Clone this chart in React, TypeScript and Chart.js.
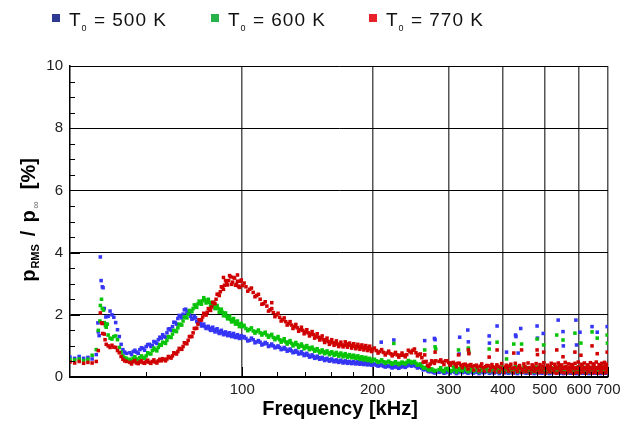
import React, { useEffect, useRef } from "react";
import { Chart, registerables } from "chart.js";

Chart.register(...registerables);

const FONT = "'Liberation Sans', Arial, sans-serif";

// Frequency grid [kHz]
const FREQ = [
  40, 41, 42, 43, 44, 45, 46,
  46.5, 47, 47.5, 48, 48.5, 49, 49.5, 50, 50.5, 51, 51.5, 52, 52.5, 53, 53.5, 54,
  55, 56, 57, 58, 59, 60, 61, 62, 63, 64, 65, 66, 67, 68, 69, 70, 71, 72, 73, 74, 75, 76, 77, 78, 79, 80,
  81, 82, 83, 84, 85, 86, 87, 88, 89, 90, 91, 92, 93, 94, 95, 96, 97, 98, 99, 100,
  102, 104, 106, 108, 110, 112, 114, 116, 118, 120, 122, 124, 126, 128, 130, 132, 134, 136, 138, 140,
  142, 144, 146, 148, 150, 152, 154, 156, 158, 160, 162, 164, 166, 168, 170, 172, 174, 176, 178, 180,
  182, 184, 186, 188, 190, 192, 194, 196, 198, 200,
  204, 208, 212, 216, 220, 224, 228, 232, 236, 240, 244, 248, 252, 256, 260, 264, 268, 272, 276, 280,
  285, 290, 295, 300, 305, 310, 315, 320, 325, 330, 335, 340, 345, 350, 355, 360, 365, 370, 375, 380,
  385, 390, 395, 400, 405, 410, 415, 420, 425, 430, 435, 440, 445, 450, 455, 460, 465, 470, 475, 480,
  485, 490, 495, 500, 505, 510, 515, 520, 525, 530, 535, 540, 545, 550, 555, 560, 565, 570, 575, 580,
  585, 590, 595, 600, 605, 610, 615, 620, 625, 630, 635, 640, 645, 650, 655, 660, 665, 670, 675, 680,
  685, 690, 695, 700,
];

// T0 = 500 K
const BLUE = [
  0.64, 0.6, 0.66, 0.6, 0.63, 0.58, 0.72,
  1.45, 3.86, 2.9, 2.2, 1.7, 1.95, 2.12, 2.0, 1.92, 1.75, 1.52, 1.3, 1.05, 0.88, 0.8, 0.76,
  0.78, 0.82, 0.8, 0.88, 0.92, 0.98, 1.05, 1.02, 1.12, 1.2, 1.25, 1.3, 1.42, 1.55, 1.62, 1.75, 1.88, 1.95, 2.02, 2.18,
  2.12, 1.95, 1.88, 1.9, 1.78, 1.72, 1.66, 1.62, 1.6, 1.55, 1.57, 1.5, 1.52, 1.45, 1.47, 1.42, 1.4, 1.38, 1.4, 1.34,
  1.36, 1.3, 1.32, 1.28, 1.3, 1.26,
  1.24, 1.18, 1.2, 1.13, 1.12, 1.06, 1.07, 1.01, 1.0, 0.96, 0.95, 0.9, 0.9, 0.86, 0.84, 0.8, 0.8, 0.76, 0.75, 0.72,
  0.7, 0.66, 0.66, 0.62, 0.62, 0.6, 0.58, 0.57, 0.55, 0.55, 0.53, 0.52, 0.5, 0.51, 0.49, 0.48, 0.49, 0.47, 0.46, 0.47,
  0.45, 0.45, 0.44, 0.45, 0.43, 0.44, 0.42, 0.42, 0.41, 0.4,
  0.38, 0.37, 0.35, 0.34, 0.33, 0.32, 0.31, 0.32, 0.33, 0.35, 0.38, 0.37, 0.34, 0.31, 0.28, 0.24, 0.2, 0.18, 0.16, 0.15,
  0.15, 0.17, 0.14, 0.16, 0.18, 0.15, 0.14, 0.17, 0.16, 0.15, 0.18, 0.14, 0.16, 0.15, 0.17, 0.14, 0.16, 0.18, 0.15, 0.14,
  0.16, 0.17, 0.15, 0.19, 0.14, 0.16, 0.15, 0.18, 0.14, 0.16, 0.17, 0.15, 0.16, 0.19, 0.14, 0.17, 0.15, 0.16, 0.18, 0.15,
  0.14, 0.17, 0.16, 0.15, 0.19, 0.16, 0.14, 0.17, 0.15, 0.18, 0.16, 0.14, 0.17, 0.15, 0.19, 0.16, 0.15, 0.18, 0.14, 0.17,
  0.16, 0.15, 0.18, 0.14, 0.17, 0.16, 0.15, 0.19, 0.16, 0.14, 0.17, 0.15, 0.18, 0.16, 0.14, 0.17, 0.15, 0.18, 0.16, 0.15,
  0.17, 0.16, 0.15, 0.18,
];

// T0 = 600 K
const GREEN = [
  0.56, 0.55, 0.58, 0.53, 0.57, 0.7, 0.88,
  1.5, 2.3, 2.2, 1.75, 1.6, 1.35, 1.25, 1.22, 1.3, 1.32, 1.2, 0.95, 0.8, 0.68, 0.62, 0.6,
  0.57, 0.6, 0.58, 0.62, 0.63, 0.68, 0.75, 0.85, 0.88, 0.95, 1.02, 1.1, 1.18, 1.28, 1.38, 1.48, 1.58, 1.68, 1.8, 1.92,
  2.02, 2.12, 2.2, 2.28, 2.35, 2.38, 2.45, 2.48, 2.42, 2.4, 2.32, 2.3, 2.22, 2.2, 2.1, 2.08, 2.0, 1.95, 1.92, 1.85,
  1.82, 1.78, 1.74, 1.7, 1.66, 1.62,
  1.56, 1.53, 1.48, 1.46, 1.42, 1.4, 1.35, 1.33, 1.27, 1.25, 1.2, 1.17, 1.13, 1.12, 1.08, 1.05, 1.04, 1.0, 0.99, 0.96,
  0.94, 0.92, 0.89, 0.87, 0.84, 0.82, 0.81, 0.79, 0.78, 0.76, 0.76, 0.73, 0.73, 0.71, 0.71, 0.7, 0.68, 0.69, 0.67, 0.66,
  0.64, 0.64, 0.62, 0.61, 0.6, 0.58, 0.58, 0.56, 0.55, 0.53,
  0.52, 0.5, 0.49, 0.48, 0.46, 0.45, 0.44, 0.44, 0.45, 0.47, 0.5, 0.48, 0.44, 0.4, 0.35, 0.3, 0.26, 0.24, 0.22, 0.21,
  0.24, 0.21, 0.26, 0.22, 0.2, 0.25, 0.23, 0.21, 0.27, 0.22, 0.2, 0.24, 0.22, 0.26, 0.21, 0.23, 0.25, 0.2, 0.22, 0.24,
  0.21, 0.26, 0.23, 0.2, 0.25, 0.22, 0.24, 0.21, 0.27, 0.23, 0.2, 0.24, 0.22, 0.26, 0.21, 0.25, 0.23, 0.2, 0.24, 0.22,
  0.26, 0.21, 0.23, 0.25, 0.2, 0.24, 0.22, 0.27, 0.21, 0.23, 0.25, 0.2, 0.24, 0.22, 0.26, 0.21, 0.23, 0.25, 0.2, 0.24,
  0.22, 0.27, 0.21, 0.23, 0.25, 0.2, 0.24, 0.22, 0.26, 0.21, 0.23, 0.25, 0.2, 0.24, 0.22, 0.26, 0.21, 0.23, 0.25, 0.2,
  0.24, 0.22, 0.26, 0.21,
];

// T0 = 770 K
const RED = [
  0.48, 0.45, 0.5, 0.44, 0.47, 0.45, 0.5,
  0.85, 2.06, 1.72, 1.38, 1.05, 1.0, 0.95, 1.02, 0.96, 0.95, 0.85, 0.78, 0.66, 0.57, 0.52, 0.5,
  0.47, 0.49, 0.45, 0.48, 0.46, 0.49, 0.47, 0.5, 0.48, 0.52, 0.52, 0.56, 0.58, 0.63, 0.68, 0.76, 0.82, 0.9, 0.98, 1.08,
  1.18, 1.3, 1.42, 1.56, 1.7, 1.84, 1.93, 2.02, 2.08, 2.18, 2.25, 2.38, 2.5, 2.66, 2.74, 2.88, 2.95, 3.02, 3.1, 3.22,
  3.05, 3.18, 2.98, 2.92, 3.08, 2.94,
  2.9, 2.82, 2.72, 2.62, 2.5, 2.36, 2.28, 2.16, 2.07, 2.0, 1.92, 1.84, 1.78, 1.72, 1.67, 1.62, 1.58, 1.52, 1.5, 1.45,
  1.42, 1.38, 1.36, 1.31, 1.28, 1.26, 1.2, 1.18, 1.14, 1.12, 1.1, 1.08, 1.06, 1.04, 1.03, 1.02, 1.06, 1.05, 1.02, 1.0,
  0.99, 0.97, 0.98, 0.96, 0.95, 0.95, 0.93, 0.92, 0.9, 0.88,
  0.85, 0.82, 0.79, 0.77, 0.75, 0.73, 0.71, 0.7, 0.7, 0.72, 0.82, 0.86, 0.78, 0.72, 0.62, 0.48, 0.38, 0.42, 0.48, 0.52,
  0.5, 0.48, 0.52, 0.46, 0.45, 0.42, 0.44, 0.38, 0.4, 0.36, 0.38, 0.34, 0.36, 0.32, 0.35, 0.3, 0.33, 0.36, 0.3, 0.32,
  0.28, 0.34, 0.3, 0.26, 0.32, 0.28, 0.35, 0.27, 0.3, 0.25, 0.32, 0.28, 0.24, 0.33, 0.27, 0.3, 0.25, 0.34, 0.28, 0.26,
  0.31, 0.24, 0.35, 0.27, 0.3, 0.25, 0.33, 0.28, 0.24, 0.32, 0.27, 0.36, 0.25, 0.3, 0.28, 0.34, 0.24, 0.31, 0.27, 0.35,
  0.26, 0.3, 0.28, 0.33, 0.25, 0.36, 0.27, 0.3, 0.24, 0.34, 0.28, 0.31, 0.26, 0.37, 0.25, 0.3, 0.28, 0.35, 0.26, 0.32,
  0.27, 0.36, 0.25, 0.3,
];

// Second sampling (in-between frequencies) showing the scatter width of each band
const FREQ2 = [
  55.5, 56.5, 57.5, 58.5, 59.5, 60.5, 61.5, 62.5, 63.5, 64.5, 65.5, 66.5, 67.5, 68.5, 69.5, 70.5, 71.5, 72.5, 73.5, 74.5,
  75.5, 76.5, 77.5, 78.5, 79.5, 80.5, 81.5, 82.5, 83.5, 84.5, 85.5, 86.5, 87.5, 88.5, 89.5, 90.5, 91.5, 92.5, 93.5, 94.5,
  95.5, 96.5, 97.5, 98.5, 99.5,
  101, 103, 105, 107, 109, 111, 113, 115, 117, 119, 121, 123, 125, 127, 129, 131, 133, 135, 137, 139,
  141, 143, 145, 147, 149, 151, 153, 155, 157, 159, 161, 163, 165, 167, 169, 171, 173, 175, 177, 179,
  181, 183, 185, 187, 189, 191, 193, 195, 197, 199,
  202, 206, 210, 214, 218, 222, 226, 230, 234, 238, 242, 246, 250, 254, 258, 262, 266, 270, 274, 278,
];
const BLUE2 = [
  0.72, 0.86, 0.76, 0.94, 0.86, 1.04, 0.98, 1.14, 1.08, 1.28, 1.36, 1.28, 1.54, 1.5, 1.76, 1.7, 1.98, 1.9, 2.16, 2.06,
  2.04, 1.86, 1.96, 1.78, 1.82, 1.64, 1.7, 1.56, 1.63, 1.5, 1.6, 1.45, 1.55, 1.4, 1.5, 1.36, 1.45, 1.33, 1.42, 1.3,
  1.4, 1.27, 1.36, 1.24, 1.33,
  1.3, 1.16, 1.25, 1.1, 1.17, 1.03, 1.11, 0.98, 1.06, 0.94, 1.0, 0.88, 0.95, 0.83, 0.9, 0.78, 0.85, 0.74, 0.81, 0.69,
  0.76, 0.64, 0.71, 0.6, 0.67, 0.57, 0.63, 0.53, 0.6, 0.51, 0.58, 0.49, 0.55, 0.47, 0.54, 0.45, 0.52, 0.44, 0.5, 0.43,
  0.5, 0.42, 0.49, 0.41, 0.48, 0.4, 0.46, 0.39, 0.45, 0.38,
  0.42, 0.35, 0.39, 0.32, 0.36, 0.29, 0.34, 0.28, 0.35, 0.31, 0.4, 0.35, 0.39, 0.29, 0.33, 0.23, 0.25, 0.17, 0.19, 0.13,
];
const GREEN2 = [
  0.52, 0.65, 0.55, 0.68, 0.6, 0.78, 0.74, 0.93, 0.84, 1.04, 1.12, 1.08, 1.3, 1.27, 1.5, 1.46, 1.7, 1.67, 1.93, 1.9,
  2.14, 2.1, 2.32, 2.24, 2.44, 2.34, 2.55, 2.38, 2.5, 2.3, 2.4, 2.2, 2.3, 2.08, 2.18, 1.97, 2.06, 1.87, 1.96, 1.77,
  1.88, 1.7, 1.8, 1.62, 1.72,
  1.66, 1.49, 1.58, 1.41, 1.51, 1.35, 1.44, 1.28, 1.37, 1.2, 1.3, 1.12, 1.23, 1.06, 1.17, 1.0, 1.11, 0.95, 1.06, 0.91,
  1.01, 0.88, 0.96, 0.83, 0.91, 0.78, 0.87, 0.75, 0.84, 0.72, 0.81, 0.7, 0.79, 0.67, 0.77, 0.65, 0.75, 0.63, 0.72, 0.62,
  0.7, 0.6, 0.68, 0.57, 0.65, 0.55, 0.63, 0.53, 0.6, 0.5,
  0.57, 0.47, 0.55, 0.44, 0.51, 0.41, 0.49, 0.4, 0.48, 0.42, 0.53, 0.45, 0.5, 0.38, 0.42, 0.28, 0.31, 0.22, 0.26, 0.19,
];
const RED2 = [
  0.42, 0.53, 0.43, 0.52, 0.44, 0.54, 0.44, 0.55, 0.45, 0.57, 0.59, 0.52, 0.66, 0.61, 0.78, 0.74, 0.92, 0.89, 1.1, 1.07,
  1.3, 1.3, 1.56, 1.57, 1.84, 1.83, 2.05, 1.99, 2.2, 2.14, 2.4, 2.36, 2.66, 2.62, 2.9, 2.82, 3.1, 2.96, 3.26, 2.98,
  3.2, 2.95, 3.08, 2.88, 3.12,
  3.02, 2.76, 2.86, 2.58, 2.66, 2.34, 2.42, 2.12, 2.2, 1.94, 2.05, 1.8, 1.9, 1.67, 1.78, 1.56, 1.69, 1.47, 1.6, 1.39,
  1.52, 1.32, 1.46, 1.25, 1.39, 1.19, 1.32, 1.11, 1.25, 1.05, 1.2, 1.02, 1.16, 0.98, 1.12, 0.97, 1.13, 0.96, 1.09, 0.93,
  1.07, 0.91, 1.05, 0.89, 1.03, 0.87, 1.01, 0.85, 0.99, 0.82,
  0.93, 0.77, 0.88, 0.71, 0.83, 0.68, 0.79, 0.64, 0.77, 0.65, 0.86, 0.78, 0.9, 0.68, 0.74, 0.48, 0.5, 0.34, 0.52, 0.44,
];

// Third sampling in the high-frequency range (band width there)
const FREQ3 = [
  287.5, 292.5, 297.5, 302.5, 307.5, 312.5, 317.5, 322.5, 327.5, 332.5, 337.5, 342.5, 347.5, 352.5, 357.5, 362.5,
  367.5, 372.5, 377.5, 382.5, 387.5, 392.5, 397.5, 402.5, 407.5, 412.5, 417.5, 422.5, 427.5, 432.5, 437.5, 442.5,
  447.5, 452.5, 457.5, 462.5, 467.5, 472.5, 477.5, 482.5, 487.5, 492.5, 497.5, 502.5, 507.5, 512.5, 517.5, 522.5,
  527.5, 532.5, 537.5, 542.5, 547.5, 552.5, 557.5, 562.5, 567.5, 572.5, 577.5, 582.5, 587.5, 592.5, 597.5, 602.5,
  607.5, 612.5, 617.5, 622.5, 627.5, 632.5, 637.5, 642.5, 647.5, 652.5, 657.5, 662.5, 667.5, 672.5, 677.5, 682.5,
  687.5, 692.5, 697.5,
];
const BLUE3 = [
  0.2, 0.12, 0.22, 0.13, 0.19, 0.11, 0.21, 0.14, 0.2, 0.12, 0.23, 0.13, 0.19, 0.11, 0.21, 0.14, 0.22, 0.12, 0.2, 0.13,
  0.18, 0.11, 0.21, 0.14, 0.23, 0.12, 0.19, 0.13, 0.22, 0.11, 0.2, 0.14, 0.18, 0.12, 0.24, 0.13, 0.2, 0.11, 0.22, 0.14,
  0.19, 0.12, 0.21, 0.13, 0.23, 0.11, 0.2, 0.14, 0.18, 0.12, 0.22, 0.13, 0.2, 0.11, 0.24, 0.14, 0.19, 0.12, 0.21, 0.13,
  0.2, 0.11, 0.23, 0.14, 0.18, 0.12, 0.22, 0.13, 0.2, 0.11, 0.21, 0.14, 0.19, 0.12, 0.24, 0.13, 0.2, 0.11, 0.22, 0.14,
  0.18, 0.12, 0.21,
];
const GREEN3 = [
  0.3, 0.17, 0.28, 0.18, 0.32, 0.16, 0.27, 0.19, 0.3, 0.17, 0.29, 0.18, 0.33, 0.16, 0.28, 0.19, 0.31, 0.17, 0.27, 0.18,
  0.3, 0.16, 0.32, 0.19, 0.28, 0.17, 0.29, 0.18, 0.33, 0.16, 0.27, 0.19, 0.31, 0.17, 0.3, 0.18, 0.28, 0.16, 0.32, 0.19,
  0.29, 0.17, 0.27, 0.18, 0.33, 0.16, 0.3, 0.19, 0.28, 0.17, 0.31, 0.18, 0.29, 0.16, 0.32, 0.19, 0.27, 0.17, 0.3, 0.18,
  0.28, 0.16, 0.33, 0.19, 0.29, 0.17, 0.31, 0.18, 0.27, 0.16, 0.3, 0.19, 0.32, 0.17, 0.28, 0.18, 0.29, 0.16, 0.33, 0.19,
  0.27, 0.17, 0.3,
];
const RED3 = [
  0.55, 0.4, 0.52, 0.38, 0.47, 0.33, 0.44, 0.3, 0.41, 0.26, 0.4, 0.22, 0.38, 0.2, 0.42, 0.18, 0.37, 0.2, 0.4, 0.16,
  0.39, 0.17, 0.43, 0.15, 0.38, 0.19, 0.41, 0.14, 0.44, 0.18, 0.37, 0.15, 0.42, 0.17, 0.45, 0.13, 0.39, 0.18, 0.43, 0.14,
  0.4, 0.16, 0.46, 0.13, 0.38, 0.17, 0.44, 0.15, 0.41, 0.12, 0.45, 0.16, 0.39, 0.14, 0.47, 0.13, 0.42, 0.17, 0.4, 0.12,
  0.44, 0.15, 0.48, 0.13, 0.41, 0.16, 0.45, 0.12, 0.39, 0.17, 0.46, 0.13, 0.42, 0.15, 0.48, 0.12, 0.4, 0.16, 0.44, 0.13,
  0.47, 0.14, 0.41,
];

// Scattered extra points (spikes / outliers)
const BLUE_EXTRA_F = [46.4, 46.7, 47.2, 47.7, 47.8, 48.4, 209.5, 224, 264, 278, 279, 317, 318, 332, 333, 372, 372.5, 388, 408, 428, 429, 434, 440, 480, 481, 496, 537, 551, 552, 590, 592, 603, 643, 661, 697];
const BLUE_EXTRA_V = [1.74, 1.33, 3.1, 2.87, 2.2, 1.93, 1.12, 1.19, 1.17, 1.24, 1.2, 0.74, 1.28, 1.51, 1.13, 1.32, 1.09, 1.64, 0.8, 1.35, 1.3, 0.77, 1.56, 1.64, 1.25, 1.4, 1.83, 1.46, 1.0, 1.83, 1.03, 1.44, 1.62, 1.44, 1.62];
const GREEN_EXTRA_F = [46.9, 47.3, 47.8, 48.3, 48.8, 224, 264, 279, 280, 316, 333, 334, 372, 388, 408, 424, 442, 480, 497, 533, 551, 587, 606, 643, 661, 697, 698];
const GREEN_EXTRA_V = [1.8, 2.5, 2.15, 1.65, 1.7, 1.08, 0.87, 0.97, 0.9, 0.87, 0.93, 0.8, 0.9, 1.12, 0.58, 1.06, 1.06, 1.22, 1.03, 1.35, 1.19, 1.41, 1.09, 1.45, 1.25, 1.35, 1.09];
const RED_EXTRA_F = [47.3, 47.6, 48.2, 90.5, 97.5, 117, 264, 279, 316, 333, 334, 372, 388, 424, 442, 480, 481, 497, 533, 551, 587, 606, 643, 661, 697];
const RED_EXTRA_V = [1.74, 1.4, 1.2, 3.2, 3.28, 2.39, 0.71, 0.8, 0.71, 0.87, 0.75, 0.64, 0.87, 0.77, 0.87, 0.87, 0.72, 0.8, 0.87, 0.65, 0.8, 0.7, 1.0, 0.75, 0.8];

const X_LABEL_TICKS = [100, 200, 300, 400, 500, 600, 700];
const Y_MIN = 0;
const Y_MAX = 10;
const X_MIN = 40;
const X_MAX = 700;

const SERIES = [
  { name: "500 K", data: BLUE, data2: BLUE2, data3: BLUE3, ef: BLUE_EXTRA_F, ev: BLUE_EXTRA_V, color: "#3535f5", legend: "#2e3a92" },
  { name: "600 K", data: GREEN, data2: GREEN2, data3: GREEN3, ef: GREEN_EXTRA_F, ev: GREEN_EXTRA_V, color: "#08c408", legend: "#27b24a" },
  { name: "770 K", data: RED, data2: RED2, data3: RED3, ef: RED_EXTRA_F, ev: RED_EXTRA_V, color: "#d00000", legend: "#e8202a" },
];

const decorPlugin = {
  id: "decor",
  afterDraw(chart: any) {
    const ctx = chart.ctx as CanvasRenderingContext2D;
    const { left, right, top, bottom } = chart.chartArea;
    const xs = chart.scales.x;
    const ys = chart.scales.y;
    ctx.save();
    ctx.strokeStyle = "#000";
    ctx.lineWidth = 1;
    // y ticks (inward)
    for (let v = Y_MIN; v <= Y_MAX + 1e-9; v += 0.5) {
      const y = Math.round(ys.getPixelForValue(v)) + 0.5;
      const len = Math.abs(v % 2) < 1e-9 ? 10 : 5;
      ctx.beginPath();
      ctx.moveTo(left, y);
      ctx.lineTo(left + len, y);
      ctx.stroke();
    }
    // x ticks (inward)
    for (let f = 60; f <= 700; f += 20) {
      const x = Math.round(xs.getPixelForValue(f)) + 0.5;
      const len = f % 100 === 0 ? 10 : 5;
      ctx.beginPath();
      ctx.moveTo(x, bottom);
      ctx.lineTo(x, bottom - len);
      ctx.stroke();
    }

    // x title
    ctx.fillStyle = "#000";
    ctx.font = `bold 20px ${FONT}`;
    ctx.textAlign = "center";
    ctx.textBaseline = "alphabetic";
    ctx.fillText("Frequency [kHz]", (left + right) / 2 + 1, 415);

    // y title (rotated, with subscripts)
    const parts = [
      { t: "p", f: `bold 20px ${FONT}`, dy: 0, c: "#000", gap: 1 },
      { t: "RMS", f: `bold 11px ${FONT}`, dy: 4, c: "#000", gap: 8 },
      { t: "/", f: `bold 20px ${FONT}`, dy: 0, c: "#000", gap: 8 },
      { t: "p", f: `bold 20px ${FONT}`, dy: 0, c: "#000", gap: 2 },
      { t: "\u221E", f: `10px ${FONT}`, dy: 4, c: "#666", gap: 12 },
      { t: "[%]", f: `bold 20px ${FONT}`, dy: 0, c: "#000", gap: 0 },
    ];
    let total = 0;
    const widths: number[] = [];
    for (const p of parts) {
      ctx.font = p.f;
      const w = ctx.measureText(p.t).width;
      widths.push(w);
      total += w + p.gap;
    }
    ctx.save();
    ctx.translate(35, 220);
    ctx.rotate(-Math.PI / 2);
    ctx.textAlign = "left";
    let cx = -total / 2;
    parts.forEach((p, i) => {
      ctx.font = p.f;
      ctx.fillStyle = p.c;
      ctx.fillText(p.t, cx, p.dy);
      cx += widths[i] + p.gap;
    });
    ctx.restore();

    // legend
    const legendX = [52, 211, 369];
    SERIES.forEach((s, i) => {
      const x0 = legendX[i];
      ctx.fillStyle = s.legend;
      ctx.fillRect(x0, 14, 8, 8);
      ctx.fillStyle = "#111";
      ctx.textAlign = "left";
      (ctx as any).letterSpacing = "1px";
      let tx = x0 + 17;
      ctx.font = `19px ${FONT}`;
      ctx.fillText("T", tx, 26);
      tx += ctx.measureText("T").width;
      ctx.font = `9px ${FONT}`;
      ctx.fillText("0", tx, 31);
      tx += ctx.measureText("0").width;
      ctx.font = `19px ${FONT}`;
      ctx.fillText(" = " + s.name, tx, 26);
      (ctx as any).letterSpacing = "0px";
    });
    ctx.restore();
  },
};

export default function App() {
  const ref = useRef<HTMLCanvasElement>(null);
  useEffect(() => {
    if (!ref.current) return;
    Chart.defaults.font.family = FONT;
    const datasets = SERIES.map((s, i) => ({
      label: "T0 = " + s.name,
      data: [
        ...FREQ.map((f, k) => ({ x: f, y: s.data[k] })),
        ...FREQ2.map((f, k) => ({ x: f, y: s.data2[k] })),
        ...FREQ3.map((f, k) => ({ x: f, y: s.data3[k] })),
        ...s.ef.map((f, k) => ({ x: f, y: s.ev[k] })),
      ],
      backgroundColor: s.color,
      borderColor: s.color,
      borderWidth: 0,
      pointStyle: "rect",
      pointRadius: 2.5,
      pointHoverRadius: 2.5,
      showLine: false,
      order: 2 - i,
    }));
    const chart = new Chart(ref.current, {
      type: "scatter",
      data: { datasets },
      options: {
        animation: false,
        responsive: false,
        devicePixelRatio: 1,
        events: [],
        layout: { padding: { left: 0, top: 66, right: 25, bottom: 0 } },
        plugins: { legend: { display: false }, tooltip: { enabled: false }, title: { display: false } },
        scales: {
          x: {
            type: "logarithmic",
            min: X_MIN,
            max: X_MAX,
            afterFit: (s: any) => {
              s.height = 46;
            },
            afterBuildTicks: (s: any) => {
              s.ticks = X_LABEL_TICKS.map((v) => ({ value: v }));
            },
            ticks: {
              autoSkip: false,
              maxRotation: 0,
              minRotation: 0,
              padding: 4,
              color: "#222",
              font: { size: 15, family: FONT },
              callback: (v: any) => String(v),
              major: { enabled: false },
            },
            grid: { color: "#555", lineWidth: 1.5, drawTicks: false },
            border: { display: true, color: "#000", width: 1.5 },
          },
          y: {
            type: "linear",
            min: Y_MIN,
            max: Y_MAX,
            afterFit: (s: any) => {
              s.width = 70;
            },
            ticks: {
              stepSize: 2,
              padding: 7,
              color: "#222",
              font: { size: 15, family: FONT },
            },
            grid: { color: "#000", lineWidth: 1, drawTicks: false },
            border: { display: true, color: "#000", width: 1.5 },
          },
        },
      },
      plugins: [decorPlugin],
    } as any);
    return () => chart.destroy();
  }, []);
  return (
    <div style={{ position: "absolute", left: 0, top: 0, width: 633, height: 423, background: "#fff" }}>
      <canvas ref={ref} width={633} height={423} style={{ display: "block", width: 633, height: 423 }} />
    </div>
  );
}
